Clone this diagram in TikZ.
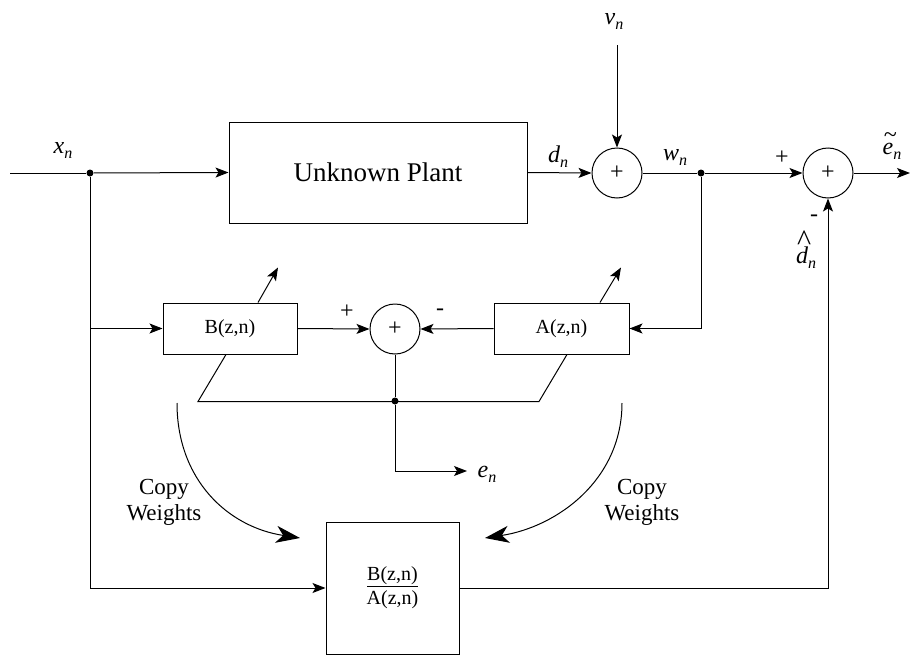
\documentclass[tikz,border=0pt]{standalone}
\usepackage{fontspec}
\setmainfont{Liberation Serif}
\usetikzlibrary{arrows.meta}
\newcommand{\sig}[2]{{\fontsize{24}{24}\selectfont\itshape #1}\raisebox{-5pt}{\fontsize{16}{16}\selectfont\itshape #2}}
\begin{document}
\begin{tikzpicture}[x=1pt,y=-1pt, line width=1pt,
  >={Stealth[length=13pt,width=10pt,inset=3pt]},
  blk/.style={draw, rectangle, inner sep=0pt, font=\fontsize{20}{24}\selectfont},
  sumnode/.style={draw, circle, minimum size=50pt, inner sep=0pt, font=\fontsize{24}{24}\selectfont},
  dotnode/.style={circle, fill, inner sep=0pt, minimum size=7pt},
  lbl/.style={inner sep=0pt},
  sgn/.style={inner sep=0pt, font=\fontsize{24}{24}\selectfont},
  cwtext/.style={inner sep=0pt, align=center, font=\fontsize{23}{26}\selectfont},
  cw/.style={-{Stealth[length=24pt,width=17pt,inset=7pt]}}]
\useasboundingbox (0,0) rectangle (911,656);
% blocks
\node[blk, minimum width=298pt, minimum height=101pt, font=\fontsize{27}{30}\selectfont] (plant) at (378,172.5) {Unknown Plant};
\node[sumnode] (s1) at (617,173) {+};
\node[sumnode] (s2) at (828,173) {+};
\node[sumnode] (s3) at (395,329) {+};
\node[blk, minimum width=134pt, minimum height=51pt] (B) at (230,328.5) {B(z,n)};
\node[blk, minimum width=135pt, minimum height=51pt] (A) at (561.5,328.5) {A(z,n)};
\node[blk, minimum width=133pt, minimum height=132pt, align=center] (F) at (392.5,588) {\underline{B(z,n)}\\A(z,n)};
\node[dotnode] (d1) at (90,173) {};
\node[dotnode] (d2) at (701,173) {};
\node[dotnode] (d3) at (395,401) {};
\coordinate (in) at (10,173);
\coordinate (out) at (910,173);
\coordinate (vtop) at (617,45);
\coordinate (enend) at (467,471);
\coordinate (cwl) at (177,403);
\coordinate (cwr) at (622,403);
\coordinate (cwlt) at (300,538);
\coordinate (cwrt) at (485,538);
% connectors
\draw (in) -- (d1);
\draw[->] (d1) -- (plant.west);
\draw[->] (plant.east) -- (s1.west);
\draw[->] (vtop) -- (s1.north);
\draw (s1.east) -- (d2);
\draw[->] (d2) -- (s2.west);
\draw[->] (s2.east) -- (out);
\draw[->] (d2) |- (A.east);
\draw[->] (d1) |- (F.west);
\draw[->] (d1 |- B.west) -- (B.west);
\draw[->] (B.east) -- (s3.west);
\draw[->] (A.west) -- (s3.east);
\draw (s3.south) -- (d3);
\draw[->] (d3) |- (enend);
\draw[->] (F.east) -| (s2.south);
% adaptation
\draw ([xshift=-4pt]B.south) -- ++(-28,47) -- ++(341,0) -- ([xshift=5.5pt]A.south);
\draw[->] ([xshift=28pt]B.north) -- ++(20,-35);
\draw[->] ([xshift=38.5pt]A.north) -- ++(21,-35);
% copy weights
\draw[cw] (cwl) .. controls (177,480) and (228,527) .. (cwlt);
\draw[cw] (cwr) .. controls (622,480) and (557,527) .. (cwrt);
\node[cwtext] (cwtl) at (164,502) {Copy\\Weights};
\node[cwtext] (cwtr) at (642,502) {Copy\\Weights};
% labels
\node[lbl] (lx) at (63,150) {\sig{x}{n}};
\node[lbl] (ld) at (558,157) {\sig{d}{n}};
\node[lbl] (lv) at (614,21) {\sig{v}{n}};
\node[lbl] (lw) at (675,157) {\sig{w}{n}};
\node[lbl] (le) at (487,474) {\sig{e}{n}};
\node[lbl] (let) at (892,146) {\sig{\rlap{\raisebox{12pt}{\kern1pt\~{}}}e}{n}};
\node[lbl] (ldh) at (806,250) {\sig{\rlap{\raisebox{13pt}{\kern1pt\fontsize{30}{30}\selectfont\upshape\^{}}}d}{n}};
\node[sgn] (p1) at (782,158) {+};
\node[sgn] (m1) at (814,218) {-};
\node[sgn] (p2) at (347,312) {+};
\node[sgn] (m2) at (440,312) {-};
\end{tikzpicture}
\end{document}
